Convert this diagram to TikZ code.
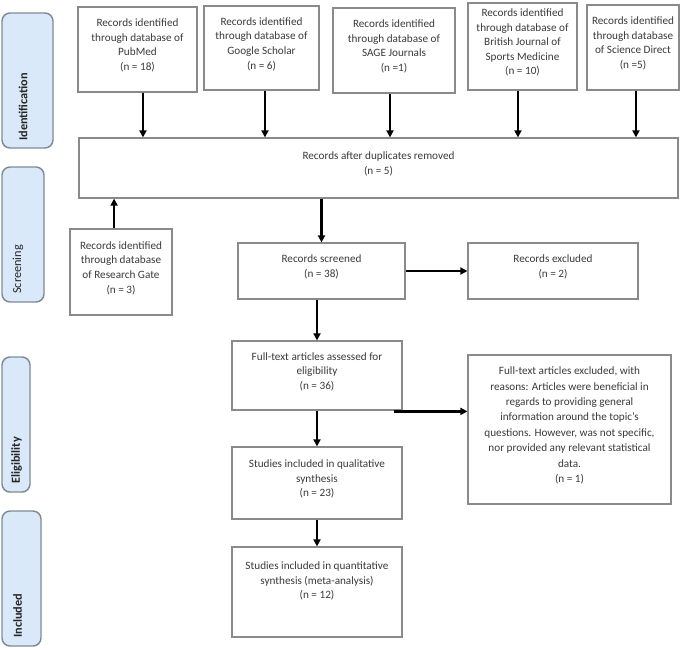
\documentclass[tikz,border=0pt]{standalone}
\usepackage{fontspec}
\setmainfont{Carlito}
\usetikzlibrary{arrows.meta,fit}
\definecolor{phasefill}{HTML}{DAE9F9}
\definecolor{phasedraw}{HTML}{7E8A96}
\definecolor{boxdraw}{HTML}{8A8A8A}
\definecolor{txt}{HTML}{3A3A3A}
\begin{document}
\begin{tikzpicture}[x=0.75pt,y=-0.75pt,
  box/.style={draw=boxdraw, line width=0.9pt, inner sep=0pt, align=center,
    font=\fontsize{8.4}{10.9}\selectfont, text=txt},
  plain/.style={inner sep=0pt, align=center, font=\fontsize{8.4}{10.9}\selectfont, text=txt},
  phase/.style={draw=phasedraw, fill=phasefill, line width=1.1pt, rounded corners=6pt, inner sep=0pt},
  phasetext/.style={rotate=90, anchor=west, inner sep=0pt, text=black!85,
    font=\fontsize{9.2}{11}\selectfont\bfseries},
  arr/.style={line width=1.9pt, -{Triangle[length=5.3pt,width=5.3pt]}},
]
\useasboundingbox (0,0) rectangle (691,649);

% phase labels
\node[phase, fit={(2,13) (53,148)}] (pid) {};
\node[phasetext] (pidt) at (23,141) {Identification};
\node[phase, fit={(2,167) (44,302)}] (pscr) {};
\node[phasetext, font=\fontsize{9.2}{11}\selectfont] (pscrt) at (18,294) {Screening};
\node[phase, fit={(2,357) (30,492)}] (pel) {};
\node[phasetext] (pelt) at (16.5,484) {Eligibility};
\node[phase, fit={(2,511) (41,646)}] (pinc) {};
\node[phasetext] (pinct) at (17.5,638) {Included};

% identification boxes
\node[box, fit={(78,7) (197,92)}] (pub) {Records identified\\through database of\\PubMed\\(n = 18)};
\node[box, fit={(204,6) (319,90)}] (gs) {Records identified\\through database of\\Google Scholar\\(n = 6)};
\node[box, fit={(333,8) (455,93)}] (sage) {Records identified\\through database of\\SAGE Journals\\(n =1)};
\node[box, fit={(468,3) (577,90)}] (bj) {Records identified\\through database of\\British Journal of\\Sports Medicine\\(n = 10)};
\node[box, fit={(587,5) (679,90)}] (sd) {Records identified\\through database\\of Science Direct\\(n =5)};

\node[box, fit={(79,138) (678,198)}] (dup) {Records after duplicates removed\\(n = 5)};

% screening
\node[box, fit={(70,229) (172,315)}] (rg) {Records identified\\through database\\of Research Gate\\(n = 3)};
\node[box, fit={(238,243) (405,299)}] (scr) {Records screened\\(n = 38)};
\node[box, fit={(468,243) (638,299)}] (exc) {Records excluded\\(n = 2)};

% eligibility
\node[box, fit={(232,341) (402,410)}] (ft) {Full-text articles assessed for\\eligibility\\(n = 36)};
\node[box, fit={(468,355) (671,504)}, font=\fontsize{8.4}{11.6}\selectfont] (ex2) {Full-text articles excluded, with\\reasons: Articles were beneficial in\\regards to providing general\\information around the topic's\\questions. However, was not specific,\\nor provided any relevant statistical\\data.\\(n = 1)};
\node[box, fit={(232,447) (402,519)}] (qual) {Studies included in qualitative\\synthesis\\(n = 23)};

% included
\node[box, fit={(232,547) (402,637)}] (quant) {};
\node[plain] (quantt) at ([yshift=8.2pt]quant.center) {Studies included in quantitative\\synthesis (meta-analysis)\\(n = 12)};

% connectors
\draw[arr] ([xshift=4.1pt]pub.south) -- ([xshift=4.1pt]pub.south |- dup.north);
\draw[arr] ([xshift=2.6pt]gs.south) -- ([xshift=2.6pt]gs.south |- dup.north);
\draw[arr] ([xshift=-3pt]sage.south) -- ([xshift=-3pt]sage.south |- dup.north);
\draw[arr] ([xshift=-3.4pt]bj.south) -- ([xshift=-3.4pt]bj.south |- dup.north);
\draw[arr] ([xshift=2.2pt]sd.south) -- ([xshift=2.2pt]sd.south |- dup.north);

\draw[arr] ([xshift=-5.2pt]rg.north) -- ([xshift=-5.2pt]rg.north |- dup.south);
\draw[arr] (scr.north |- dup.south) -- (scr.north);
\draw[arr] (scr.east) -- (exc.west);
\draw[arr] (ft.north |- scr.south) -- (ft.north);
\coordinate (ftout) at ([xshift=-6.8pt,yshift=-0.6pt]ft.south east);
\draw[arr] (ftout) -- (ftout -| ex2.west);
\draw[arr] (ft.south) -- (qual.north);
\draw[arr] (qual.south) -- (quant.north);
\end{tikzpicture}
\end{document}
